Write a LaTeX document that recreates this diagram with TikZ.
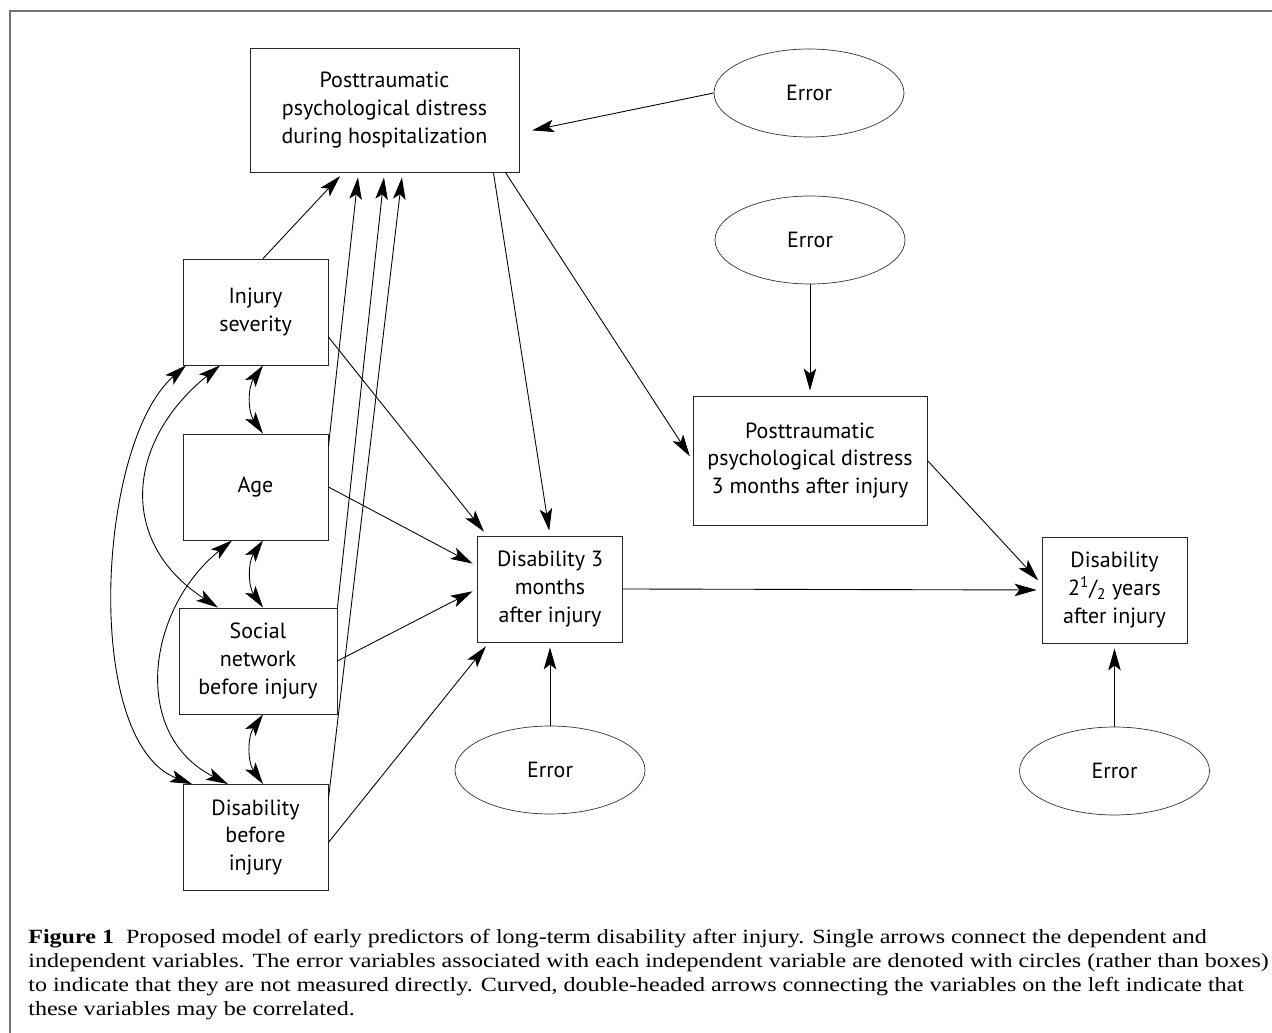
\documentclass[tikz,border=0pt]{standalone}
\usepackage{fontspec}
\setmainfont{Liberation Serif}[FakeStretch=1.19]
\setsansfont{PT Sans}
\usepackage{tikz}
\usetikzlibrary{arrows,arrows.meta,calc,positioning,shapes.geometric}
\tikzset{
    >={Stealth[length=4.4mm,width=2.5mm,inset=1mm]},
    boks/.style={
           rectangle,
           draw=black!85, line width=0.5pt,
           minimum width=2.9cm, minimum height=2.12cm,
           inner sep=0pt,
           align=center,
           font=\sffamily\fontsize{12.5pt}{15.9pt}\selectfont},
    feil/.style={
           ellipse,
           draw=black!80, line width=0.4pt,
           minimum width=3.8cm, minimum height=1.76cm,
           inner sep=0pt,
           font=\sffamily\fontsize{12.5pt}{15.9pt}\selectfont},
    pil/.style={
           ->,
           line width=0.5pt,
           shorten >=1mm},
    korr/.style={
           <->,
           line width=0.5pt}
}
\begin{document}
\begin{tikzpicture}[x=0.02cm,y=0.02cm]
          \useasboundingbox (0,0) rectangle (1272,-1033);
          \draw[black!55, line width=0.7pt] (10,-1033) -- (10,-11) -- (1272,-11);
          \node[boks, minimum width=5.38cm, minimum height=2.48cm](phosp) at (384.5,-110) {Posttraumatic\\psychological distress\\during hospitalization};
          \node[feil](errph) at (809,-93) {Error};
          \node[boks](injsev) at (255.5,-312) {Injury\\severity};
          \node[boks](age) at (255.5,-487) {Age};
          \node[boks, minimum width=3.16cm](socnet) at (258,-661) {Social\\network\\before injury};
          \node[boks](disbef) at (255.5,-837.5) {Disability\\before\\injury};
          \node[boks](dis3m) at (550,-589) {Disability 3\\months\\after injury};
          \node[boks, minimum width=4.68cm, minimum height=2.58cm](pd3m) at (810,-460.5) {Posttraumatic\\psychological distress\\3 months after injury};
          \node[feil](errpd) at (810,-240) {Error};
          \node[boks](dis25) at (1114.5,-590) {Disability\\2\textsuperscript{1}/\textsubscript{2} years\\after injury};
          \node[feil](errd3) at (550,-770) {Error};
          \node[feil](errd25) at (1114.5,-771) {Error};
          \draw[pil, shorten >=2.6mm] (errph.west) -- ([yshift=-0.46cm]phosp.east);
          \draw[pil] ([xshift=0.15cm]injsev.north) -- ([xshift=-0.82cm]phosp.south);
          \draw[pil] ([yshift=-0.26cm]age.north east) -- ([xshift=-0.52cm]phosp.south);
          \draw[pil] (socnet.north east) -- (phosp.south);
          \draw[pil] ([yshift=-0.3cm]disbef.north east) -- ([xshift=0.36cm]phosp.south);
          \draw[pil] ([yshift=-0.5cm]injsev.east) -- ([xshift=0.2cm]dis3m.north west);
          \draw[pil] (age.east) -- ([yshift=0.46cm]dis3m.west);
          \draw[pil] (socnet.east) -- (dis3m.west);
          \draw[pil] ([yshift=-0.1cm]disbef.east) -- ([xshift=0.24cm]dis3m.south west);
          \draw[pil] ([xshift=-0.52cm]phosp.south east) -- (dis3m.north);
          \draw[pil] ([xshift=-0.28cm]phosp.south east) -- (pd3m.west);
          \draw[pil] (errpd.south) -- (pd3m.north);
          \draw[pil] (pd3m.east) -- ([yshift=0.12cm]dis25.west);
          \draw[pil] (dis3m.east) -- (dis25.west);
          \draw[pil] (errd3.north) -- (dis3m.south);
          \draw[pil] (errd25.north) -- (dis25.south);
          \draw[korr] ([xshift=0.15cm]injsev.south) to[bend right=35] ([xshift=0.15cm]age.north);
          \draw[korr] ([xshift=0.15cm]age.south) to[bend right=35] ([xshift=0.1cm]socnet.north);
          \draw[korr] ([xshift=0.1cm]socnet.south) to[bend right=35] ([xshift=0.15cm]disbef.north);
          \draw[korr] ([xshift=-0.71cm]injsev.south) to[out=219,in=147,looseness=1.27] ([xshift=-0.8cm]socnet.north);
          \draw[korr] ([xshift=-1.39cm]injsev.south) to[out=221,in=159,looseness=0.72] ([xshift=-1.27cm]disbef.north);
          \draw[korr] ([xshift=-0.47cm]age.south) to[out=219,in=153,looseness=1.15] ([xshift=-0.55cm]disbef.north);
          \node[anchor=north west, align=left, inner sep=0pt, font=\fontsize{11.5pt}{13.6pt}\selectfont](tekst) at (28,-929) {\textbf{Figure 1}\ \ Proposed model of early predictors of long-term disability after injury. Single arrows connect the dependent and\\independent variables. The error variables associated with each independent variable are denoted with circles (rather than boxes)\\to indicate that they are not measured directly. Curved, double-headed arrows connecting the variables on the left indicate that\\these variables may be correlated.};
\end{tikzpicture}
\end{document}
